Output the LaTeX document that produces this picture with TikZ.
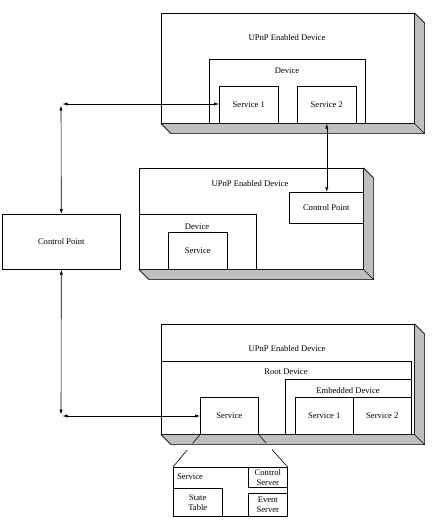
\documentclass[tikz,border=0pt]{standalone}
\usepackage{fontspec}
\setmainfont{Liberation Serif}
\usetikzlibrary{arrows.meta}
\begin{document}
\begin{tikzpicture}[x=1pt,y=-1pt,
  every node/.style={font=\fontsize{8.6}{10}\selectfont,align=center,inner sep=1pt},
  box/.style={draw,fill=white,line width=0.6pt,anchor=north west},
  size/.style 2 args={minimum width=#1pt,minimum height=#2pt},
  slab/.style={draw,fill=black!25,line width=0.6pt,line join=round},
  link/.style={{Latex[length=5pt,width=3.2pt]}-{Latex[length=5pt,width=3.2pt]},line width=0.6pt},
  zoomline/.style={line width=0.6pt,dash pattern=on 11.5pt off 8.5pt on 40pt}
]
\useasboundingbox (0,0) rectangle (431,524);

\node[box,size={253}{110}] (top) at (161,13) {};
\node (top-title) at (287,38) {UPnP Enabled Device};
\node[box,size={156}{64}] (top-dev) at (209,59) {};
\node (top-devlbl) at (287,71) {Device};
\node[box,size={59}{37}] (top-s1) at (219,86) {Service 1};
\node[box,size={59}{37}] (top-s2) at (297,86) {Service 2};

\node[box,size={224}{101}] (mid) at (139,168) {};
\node (mid-title) at (250,184) {UPnP Enabled Device};
\node[box,size={74}{31}] (mid-cp) at (289,192) {Control Point};
\node[box,size={117}{55}] (mid-dev) at (139,214) {};
\node (mid-devlbl) at (197,227) {Device};
\node[box,size={59}{37}] (mid-svc) at (168,232) {Service};

\node[box,size={118}{55}] (cp) at (2,214) {Control Point};

\node[box,size={253}{110}] (bot) at (161,324) {};
\node (bot-title) at (287,349) {UPnP Enabled Device};
\node[box,size={250}{73}] (root) at (161,361) {};
\node (root-lbl) at (286,372) {Root Device};
\node[box,size={126}{55}] (emb) at (285,379) {};
\node (emb-lbl) at (348,391) {Embedded Device};
\node[box,size={58}{37}] (emb-s1) at (295,397) {Service 1};
\node[box,size={58}{37}] (emb-s2) at (353,397) {Service 2};
\node[box,size={58}{37}] (bot-svc) at (200,397) {Service};

\node[box,size={114}{49}] (zoom) at (173,467) {};
\node[anchor=west] (zoom-lbl) at (176,477) {Service};
\node[box,size={49}{28}] (state) at (173,488) {State\\Table};
\node[box,size={39}{20}] (ctrl) at (248,467) {Control\\Server};
\node[box,size={39}{23}] (evt) at (248,493) {Event\\Server};

\foreach \b in {top,mid,bot} {
  \filldraw[slab] (\b.north east) -- ([shift={(10,10)}]\b.north east)
    -- ([shift={(10,10)}]\b.south east) -- ([shift={(10,10)}]\b.south west)
    -- (\b.south west) -- (\b.south east) -- cycle;
  \draw[line width=0.6pt] (\b.south east) -- ([shift={(10,10)}]\b.south east);
}

\coordinate (up) at (61,104);
\coordinate (down) at (61,416);
\foreach \c/\n in {up/top-s1,down/bot-svc}
  \draw[link,shorten <=1.5pt] (\c) -- (\c -| \n.west);
\draw[link,shorten <=1.5pt] (up) -- (cp.north);
\draw[link,shorten <=1.5pt] (down) -- (cp.south);
\draw[link] (top-s2.south) -- (top-s2.south |- mid-cp.north);

\draw[zoomline] (bot-svc.south west) -- (zoom.north west);
\draw[zoomline] (bot-svc.south east) -- (zoom.north east);
\end{tikzpicture}
\end{document}
